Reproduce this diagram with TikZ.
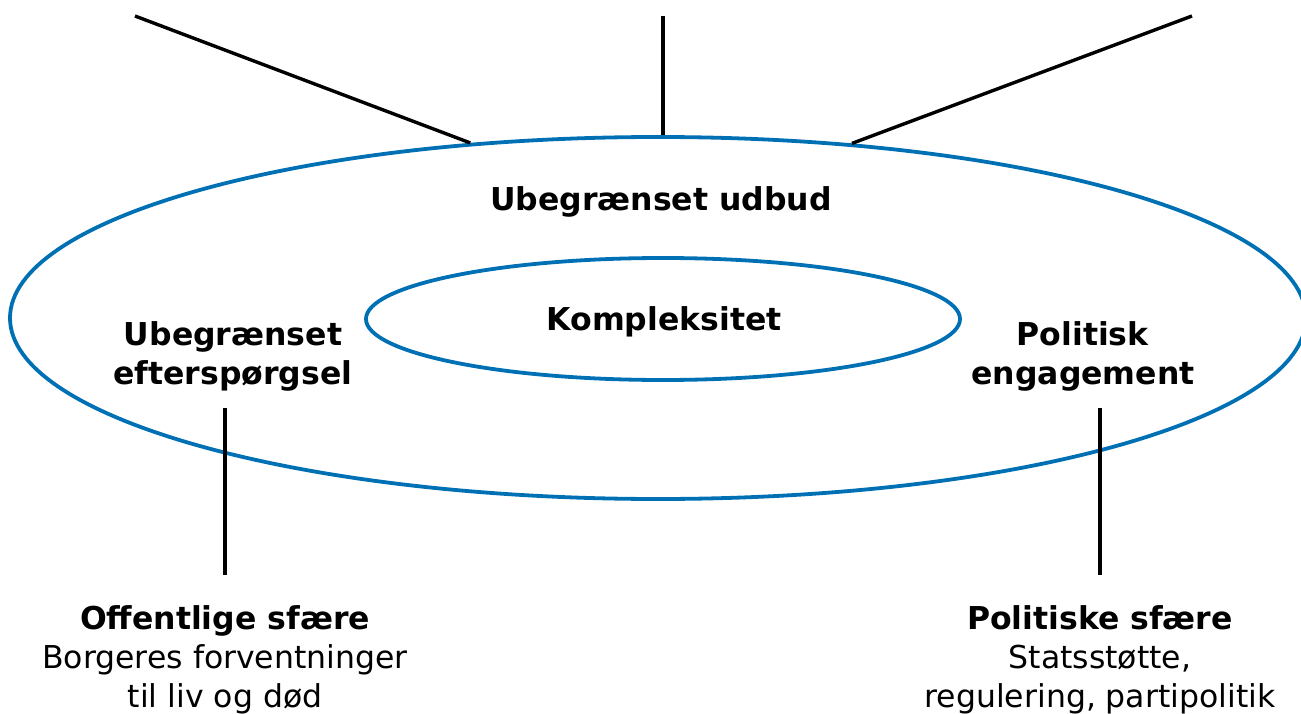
\documentclass[tikz,border=0pt]{standalone}
\usepackage{fontspec}
\setmainfont{DejaVu Sans}
\usetikzlibrary{shapes.geometric}
\definecolor{ringblue}{RGB}{0,112,180}

\begin{document}
\begin{tikzpicture}[x=1pt,y=-1pt,
  ring/.style={ellipse,draw=ringblue,line width=3.8pt,inner sep=0pt},
  lbl/.style={align=center,inner sep=0pt,font=\fontsize{31.5}{39}\selectfont},
  link/.style={line width=3.4pt,shorten <=17pt,shorten >=31pt}]
  \useasboundingbox (0,0) rectangle (1301,714);
  \node[ring,minimum width=1296pt,minimum height=362pt] (outer) at (658,318) {};
  \node[ring,minimum width=594pt,minimum height=122pt] (inner) at (663,319) {};
  \node[lbl] (supply) at (661,202) {\textbf{Ubegrænset udbud}};
  \node[lbl] (complex) at (664,322) {\textbf{Kompleksitet}};
  \node[lbl] (demand) at (233,356) {\textbf{Ubegrænset}\\\textbf{efterspørgsel}};
  \node[lbl] (engage) at (1083,356) {\textbf{Politisk}\\\textbf{engagement}};
  \node[lbl] (public) at (225,660) {\textbf{Offentlige sfære}\\Borgeres forventninger\\til liv og død};
  \node[lbl] (political) at (1100,660) {\textbf{Politiske sfære}\\Statsstøtte,\\regulering, partipolitik};
  \coordinate (tl) at (135,16);
  \coordinate (tm) at (663,16);
  \coordinate (tr) at (1192,16);
  \draw[line width=3.4pt] (tl) -- (outer.137);
  \draw[line width=3.4pt] (tm) -- (tm |- outer.north);
  \draw[line width=3.4pt] (tr) -- (outer.42);
  \draw[link] (demand.south -| public.north) -- (public.north);
  \draw[link] (engage.south -| political.north) -- (political.north);
\end{tikzpicture}
\end{document}
